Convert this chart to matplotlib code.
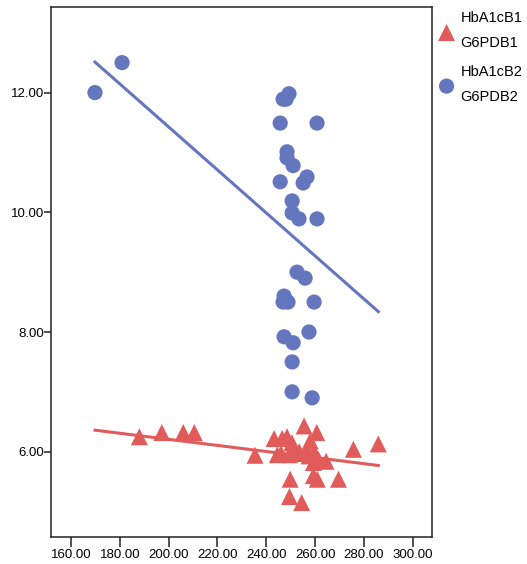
import numpy as np
import matplotlib
matplotlib.use("Agg")
import matplotlib.pyplot as plt

# group 1 (HbA1cB1 vs G6PDB1) - triangles
g1_x = [188.0, 197.2, 206.0, 210.5, 235.4, 243.2, 246.5, 248.5, 244.5, 246.0,
        249.5, 250.5, 252.0, 255.5, 256.5, 258.0, 259.5, 260.7, 259.3, 261.4,
        264.5, 249.8, 259.3, 260.9, 269.6, 249.5, 254.5, 275.7, 285.9, 257.5,
        253.5]
g1_y = [6.25, 6.32, 6.32, 6.32, 5.94, 6.22, 6.22, 6.25, 5.95, 5.97,
        5.95, 6.15, 5.97, 6.43, 6.02, 6.18, 6.00, 6.32, 5.82, 5.87,
        5.84, 5.54, 5.60, 5.54, 5.54, 5.25, 5.15, 6.04, 6.13, 5.93,
        6.00]

# group 2 (HbA1cB2 vs G6PDB2) - circles
g2_x = [169.8, 180.9, 246.9, 248.1, 249.3, 245.7, 260.8, 248.5, 248.5, 251.0,
        245.7, 256.7, 255.1, 250.6, 250.6, 253.4, 260.8, 252.6, 255.9, 247.3,
        246.9, 248.9, 259.6, 257.5, 247.3, 251.0, 250.6, 250.6, 258.8]
g2_y = [12.00, 12.50, 11.89, 11.89, 11.98, 11.49, 11.49, 11.01, 10.91, 10.78,
        10.51, 10.59, 10.49, 10.19, 9.99, 9.89, 9.89, 9.00, 8.90, 8.60,
        8.50, 8.50, 8.50, 8.00, 7.92, 7.82, 7.50, 7.00, 6.90]

# fit lines: (intercept, slope)
fit_g1 = (7.223, -0.005082)
fit_g2 = (18.61, -0.03592)

labels = ["HbA1cB1\nG6PDB1", "HbA1cB2\nG6PDB2"]
red = "#e25b5b"
blue = "#6476be"

plt.rcParams['font.family'] = ['Liberation Sans', 'DejaVu Sans']

fig = plt.figure(figsize=(5.27, 5.64), dpi=100)
ax = fig.add_axes([0.0973, 0.0484, 0.7224, 0.9392])

xr = np.array([min(min(g1_x), min(g2_x)), max(max(g1_x), max(g2_x))])
ax.plot(xr, fit_g1[0] + fit_g1[1] * xr, color=red, lw=2.2, zorder=2)
ax.plot(xr, fit_g2[0] + fit_g2[1] * xr, color=blue, lw=2.2, zorder=2)

ax.scatter(g1_x, g1_y, marker='^', s=150, color=red, edgecolors='none', zorder=3, label=labels[0])
ax.scatter(g2_x, g2_y, marker='o', s=120, color=blue, edgecolors='none', zorder=3, label=labels[1])

ax.set_xlim(151.9, 307.9)
ax.set_ylim(4.58, 13.43)
ax.set_xticks(np.arange(160, 301, 20))
ax.set_yticks([6, 8, 10, 12])
ax.xaxis.set_major_formatter(plt.FormatStrFormatter('%.2f'))
ax.yaxis.set_major_formatter(plt.FormatStrFormatter('%.2f'))
ax.tick_params(axis='x', length=7, width=1.1, pad=2, labelsize=9.5, color='#222222')
ax.tick_params(axis='y', length=5, width=1.1, pad=0, labelsize=9.5, color='#222222')
for sp in ax.spines.values():
    sp.set_linewidth(1.1)
    sp.set_color('#222222')

leg = ax.legend(loc='upper left', bbox_to_anchor=(1.0, 1.0), frameon=False,
                fontsize=10.5, handletextpad=0.25, labelspacing=1.0,
                borderaxespad=0.3, borderpad=0, handlelength=1.4)
for t in leg.get_texts():
    t.set_linespacing(2.0)

fig.savefig("out.png", dpi=100)
